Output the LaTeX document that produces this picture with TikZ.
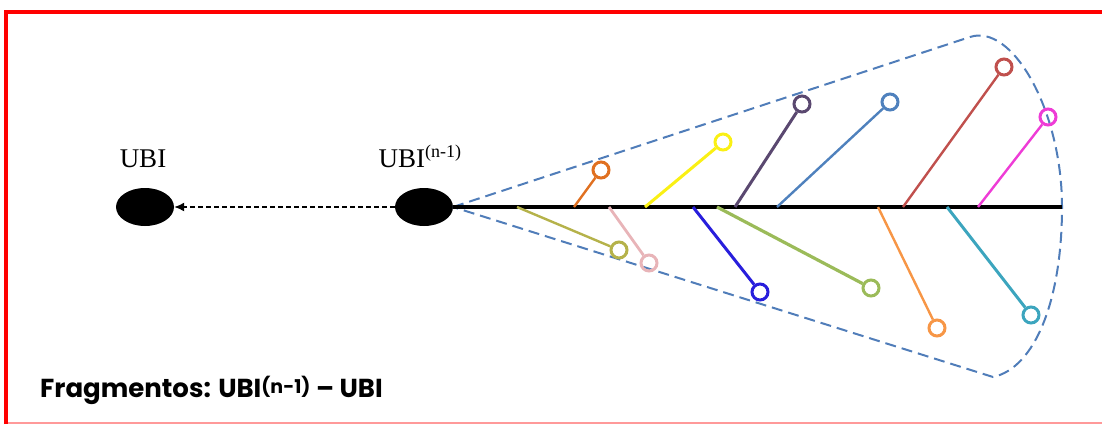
\documentclass[tikz,border=0pt]{standalone}
\usepackage{fontspec}
\setmainfont{Liberation Serif}
\newfontfamily\gothic{Poppins}
\usetikzlibrary{shapes.geometric,arrows.meta}
\definecolor{outl}{RGB}{80,125,185}
\definecolor{cOrA}{RGB}{224,112,32}
\definecolor{cYel}{RGB}{250,240,20}
\definecolor{cPur}{RGB}{90,72,112}
\definecolor{cSte}{RGB}{79,129,189}
\definecolor{cBrn}{RGB}{192,80,77}
\definecolor{cMag}{RGB}{238,60,214}
\definecolor{cOli}{RGB}{181,178,74}
\definecolor{cPnk}{RGB}{232,180,184}
\definecolor{cBlu}{RGB}{40,30,220}
\definecolor{cGrn}{RGB}{155,187,89}
\definecolor{cOrB}{RGB}{247,150,70}
\definecolor{cTea}{RGB}{60,165,190}
\tikzset{
  blob/.style={ellipse, fill=black, minimum width=58pt, minimum height=38pt, inner sep=0pt},
  ring/.style={circle, draw=#1, line width=3pt, minimum size=16pt, inner sep=0pt},
  branch/.style={draw=#1, line width=2.4pt},
  lbl/.style={font=\fontsize{27}{29}\selectfont, inner sep=0pt}
}
\begin{document}
\begin{tikzpicture}[x=1pt,y=-1pt]
\useasboundingbox (0,0) rectangle (1102,425);
% red frame
\draw[red!40, line width=1.5pt] (6,423) -- (1102,423);
\draw[red, line width=4pt] (6,424) -- (6,12) -- (1102,12);

% main nodes
\node[blob] (ubi) at (145,207) {};
\node[blob] (ubin) at (424,207) {};
\node[lbl, anchor=base] (tubi) at (143,167) {UBI};
\node[lbl, anchor=base] (tubin) at (420,167) {UBI\textsuperscript{\fontsize{18}{20}\selectfont(n-1)}};
\draw[line width=1.6pt, dash pattern=on 5pt off 3pt, -{Latex[length=10pt,width=9pt]}] (ubin.west) -- (ubi.east);

% outline
\coordinate (apex) at (453,207);
\draw[outl, line width=2pt, dash pattern=on 11pt off 6pt]
  (apex) -- (970,37) .. controls (1012,23) and (1062,110) .. (1062,207)
  .. controls (1062,300) and (1035,368) .. (993,377) -- cycle;

% spine
\coordinate (tail) at (1062,207);
\draw[black, line width=3.2pt] (apex) -- (tail);

% rings
\node[ring=cOrA] (r1) at (601,170) {};
\node[ring=cYel] (r2) at (723,142) {};
\node[ring=cPur] (r3) at (802,104) {};
\node[ring=cSte] (r4) at (890,102) {};
\node[ring=cBrn] (r5) at (1004,67) {};
\node[ring=cMag] (r6) at (1048,117) {};
\node[ring=cOli] (r7) at (619,250) {};
\node[ring=cPnk] (r8) at (649,263) {};
\node[ring=cBlu] (r9) at (760,292) {};
\node[ring=cGrn] (r10) at (871,288) {};
\node[ring=cOrB] (r11) at (937,328) {};
\node[ring=cTea] (r12) at (1031,315) {};

% branch bases
\coordinate (b1) at (574,207);
\coordinate (b2) at (645,207);
\coordinate (b3) at (735,207);
\coordinate (b4) at (777,207);
\coordinate (b5) at (903,207);
\coordinate (b6) at (978,207);
\coordinate (b7) at (517,207);
\coordinate (b8) at (609,207);
\coordinate (b9) at (693,207);
\coordinate (b10) at (717,207);
\coordinate (b11) at (878,207);
\coordinate (b12) at (947,207);

\draw[branch=cOrA] (b1) -- (r1);
\draw[branch=cYel, line width=3pt] (b2) -- (r2);
\draw[branch=cPur, line width=3pt] (b3) -- (r3);
\draw[branch=cSte] (b4) -- (r4);
\draw[branch=cBrn] (b5) -- (r5);
\draw[branch=cMag] (b6) -- (r6);
\draw[branch=cOli] (b7) -- (r7);
\draw[branch=cPnk, line width=2.8pt] (b8) -- (r8);
\draw[branch=cBlu, line width=3pt] (b9) -- (r9);
\draw[branch=cGrn, line width=3.2pt] (b10) -- (r10);
\draw[branch=cOrB] (b11) -- (r11);
\draw[branch=cTea, line width=3pt] (b12) -- (r12);

% caption
\node[anchor=base west, inner sep=0pt, font=\gothic\fontsize{26}{29}\selectfont] (cap) at (40,397)
  {\textbf{Fragmentos: UBI}{\fontsize{19}{21}\selectfont\raisebox{4pt}{\textbf{(n-1)}}}\textbf{ – UBI}};
\end{tikzpicture}
\end{document}
